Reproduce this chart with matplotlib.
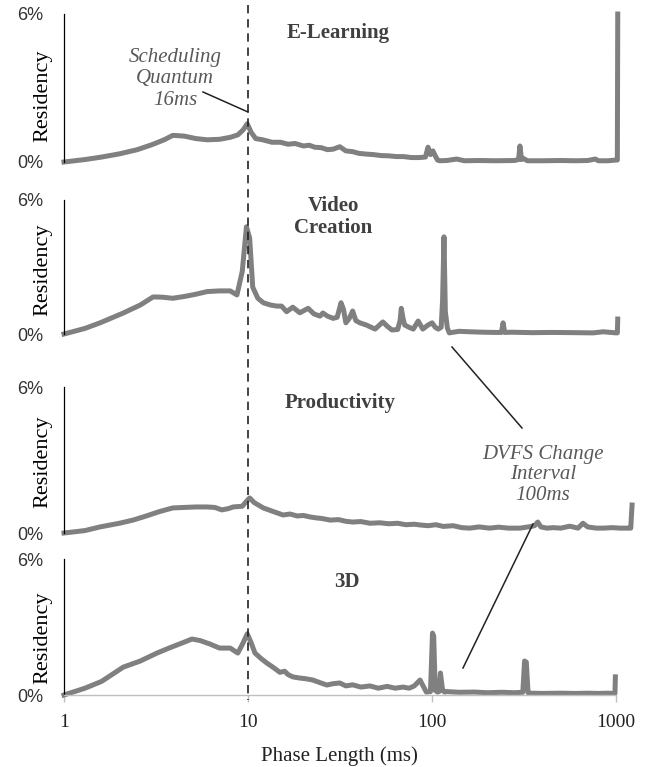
import numpy as np
import matplotlib
matplotlib.use("Agg")
import matplotlib.pyplot as plt
from matplotlib.lines import Line2D
from matplotlib.transforms import blended_transform_factory

plt.rcParams['font.family'] = ['Liberation Serif', 'DejaVu Serif']

# residency (%) vs phase length (ms)
elearn_x = [1, 1.3, 1.6, 2.0, 2.5, 3.0, 3.5, 3.9, 4.5, 5.2, 6.0, 7.0, 8.0, 8.8, 9.4, 9.9,
            10.4, 11.0, 12.0, 13.5, 15, 16.5, 18, 20, 21.5, 23, 25, 27, 29, 31.5, 34, 37,
            40, 44, 48, 53, 58, 64, 70, 77, 85, 92, 95, 98, 101, 104, 107, 110, 120, 136,
            150, 180, 220, 280, 295, 300, 306, 312, 330, 400, 500, 600, 700, 770, 800,
            900, 1000, 1015, 1020]
elearn_y = [0, 0.1, 0.2, 0.33, 0.5, 0.7, 0.9, 1.08, 1.05, 0.95, 0.9, 0.92, 1.0, 1.1, 1.3, 1.55,
            1.2, 0.95, 0.9, 0.8, 0.8, 0.72, 0.75, 0.65, 0.68, 0.6, 0.58, 0.5, 0.52, 0.62, 0.45, 0.42,
            0.35, 0.32, 0.3, 0.26, 0.25, 0.22, 0.22, 0.18, 0.18, 0.2, 0.6, 0.3, 0.45, 0.25, 0.08, 0.05,
            0.06, 0.12, 0.05, 0.06, 0.05, 0.06, 0.1, 0.65, 0.1, 0.15, 0.05, 0.05, 0.06, 0.05, 0.06,
            0.12, 0.05, 0.05, 0.08, 0.08, 6.0]

video_x = [1, 1.3, 1.57, 2.1, 2.6, 3.05, 3.4, 3.9, 4.5, 5.2, 6.0, 7.0, 8.0, 8.7, 9.3, 9.8,
           10.2, 10.6, 11.3, 12.1, 13.2, 14.3, 15.2, 16.2, 17.5, 19.1, 21.2, 22.8, 24.6, 25.5,
           27, 29, 30.5, 32, 33, 34, 35.5, 37, 38.5, 40.5, 44, 49, 54, 57, 60.5, 65, 67, 68,
           69.5, 71, 75, 79, 84, 89, 95, 100, 104, 108, 112, 114, 116, 118, 121, 124, 140,
           160, 190, 220, 238, 243, 248, 270, 350, 450, 600, 750, 850, 1000, 1015, 1020]
video_y = [0, 0.25, 0.5, 0.94, 1.3, 1.66, 1.65, 1.6, 1.68, 1.78, 1.9, 1.93, 1.93, 1.75, 2.8, 4.8,
           4.3, 2.1, 1.6, 1.4, 1.3, 1.25, 1.25, 1.0, 1.2, 0.95, 1.15, 0.9, 0.8, 0.94,
           0.8, 0.7, 0.75, 1.4, 1.1, 0.5, 0.7, 1.03, 0.6, 0.5, 0.4, 0.22, 0.54, 0.35, 0.18, 0.2, 0.6, 1.15,
           0.7, 0.4, 0.3, 0.22, 0.58, 0.22, 0.4, 0.5, 0.3, 0.22, 0.3, 1.5, 4.35, 1.0, 0.27, 0.05, 0.12,
           0.1, 0.08, 0.07, 0.07, 0.5, 0.07, 0.08, 0.06, 0.07, 0.06, 0.05, 0.1, 0.05, 0.05, 0.67]

prod_x = [1, 1.3, 1.57, 2.0, 2.37, 2.8, 3.3, 3.9, 4.5, 5.2, 6.0, 6.6, 7.2, 7.8, 8.3, 9.3,
          9.8, 10.2, 10.8, 12.1, 13.5, 15.5, 16.9, 18.5, 20, 21.7, 23.5, 25, 28, 31, 34, 37,
          41, 46, 52, 58, 65, 72, 80, 86, 95, 105, 115, 130, 145, 160, 180, 205, 230, 260,
          300, 340, 360, 375, 390, 420, 455, 500, 560, 620, 660, 700, 780, 850, 950, 1050,
          1170, 1200, 1220]
prod_y = [0, 0.1, 0.25, 0.4, 0.53, 0.7, 0.88, 1.03, 1.05, 1.07, 1.07, 1.05, 0.95, 1.0, 1.07, 1.1,
          1.3, 1.44, 1.25, 1.03, 0.9, 0.74, 0.78, 0.7, 0.72, 0.66, 0.62, 0.6, 0.53, 0.55, 0.48, 0.45,
          0.47, 0.4, 0.42, 0.38, 0.4, 0.34, 0.36, 0.33, 0.3, 0.34, 0.27, 0.3, 0.22, 0.2, 0.25, 0.2,
          0.24, 0.2, 0.2, 0.26, 0.3, 0.45, 0.25, 0.2, 0.22, 0.2, 0.28, 0.2, 0.4, 0.25, 0.2, 0.2,
          0.22, 0.2, 0.2, 0.2, 1.15]

d3_x = [1, 1.3, 1.6, 2.1, 2.6, 3.2, 3.8, 4.4, 4.96, 5.5, 6.2, 7.0, 8.0, 8.8, 9.4, 9.9,
        10.4, 10.9, 11.8, 12.7, 13.8, 14.9, 15.8, 16.5, 17.5, 19, 20.5, 22.5, 24.5, 26.8, 29,
        31.5, 34, 37, 41, 46, 51, 57, 63, 69.5, 75, 80, 86, 90, 93, 98, 100.5, 102, 104, 107,
        109, 111, 114, 117, 120, 140, 170, 200, 240, 280, 311, 318, 325, 332, 340, 400, 500,
        600, 700, 800, 900, 985, 990]
d3_y = [0, 0.3, 0.6, 1.23, 1.5, 1.85, 2.1, 2.3, 2.47, 2.4, 2.25, 2.07, 2.07, 1.85, 2.3, 2.7,
        2.3, 1.85, 1.6, 1.4, 1.2, 1.0, 1.05, 0.9, 0.8, 0.75, 0.72, 0.66, 0.55, 0.44, 0.5,
        0.53, 0.4, 0.45, 0.35, 0.4, 0.3, 0.38, 0.3, 0.35, 0.3, 0.4, 0.66, 0.35, 0.13, 0.15, 2.73,
        2.6, 0.2, 0.13, 0.15, 0.97, 0.2, 0.13, 0.15, 0.12, 0.13, 0.1, 0.12, 0.1, 0.12, 1.5, 1.45,
        0.1, 0.08, 0.07, 0.08, 0.07, 0.08, 0.07, 0.08, 0.07, 0.8]

series = [(elearn_x, elearn_y), (video_x, video_y), (prod_x, prod_y), (d3_x, d3_y)]
titles = ["E-Learning", "Video\nCreation", "Productivity", "3D"]

W, H = 652, 767
fig = plt.figure(figsize=(W / 100, H / 100), dpi=100)


def fx(px):
    return px / W


def fy(py):
    return 1 - py / H


# (top, bottom) pixel rows of each panel
rows = [(14, 162), (200, 334), (387, 533), (559, 695)]
ylab_pos = [0.446, 0.478, 0.486, 0.42]
x_left, x_right = 64, 634
line_col = "#808080"

axes = []
for i, ((top, bot), (xs, ys)) in enumerate(zip(rows, series)):
    ax = fig.add_axes([fx(x_left), fy(bot), fx(x_right - x_left), (bot - top) / H])
    ax.plot(xs, ys, color=line_col, lw=3.6, solid_joinstyle="round", clip_on=False)
    ax.set_xscale("log")
    ax.set_xlim(1, 1250)
    ax.set_ylim(0, 6)
    ax.set_yticks([0, 6])
    ax.set_yticklabels(["0%", "6%"], family="Liberation Sans", fontsize=13, color="#333333")
    ax.tick_params(axis="y", length=0, pad=15)
    ax.set_ylabel("Residency", fontsize=16, color="black")
    ax.yaxis.set_label_coords(-0.02, ylab_pos[i])
    for s in ["top", "right"]:
        ax.spines[s].set_visible(False)
    ax.spines["left"].set_linewidth(0.9)
    ax.spines["left"].set_color("black")
    ax.patch.set_alpha(0)
    axes.append(ax)

for ax in axes[:3]:
    ax.spines["bottom"].set_visible(False)
    ax.set_xticks([])
    ax.xaxis.set_minor_locator(matplotlib.ticker.NullLocator())

ax4 = axes[3]
ax4.spines["bottom"].set_color("#bfbfbf")
ax4.spines["bottom"].set_linewidth(1.0)
ax4.spines["bottom"].set_bounds(1, 1000)
ax4.set_xticks([1, 10, 100, 1000])
ax4.set_xticklabels(["1", "10", "100", "1000"], fontsize=14, color="#222222")
ax4.xaxis.set_minor_locator(matplotlib.ticker.NullLocator())
ax4.tick_params(axis="x", length=5, width=1, color="#bfbfbf", pad=9)
ax4.set_xlabel("Phase Length (ms)", fontsize=15, color="#222222")
ax4.xaxis.set_label_coords(0.484, -0.375)

# panel titles
title_pos = [(338, 33), (333, 217), (340, 403), (347, 582)]
for t, (px, py) in zip(titles, title_pos):
    fig.text(fx(px), fy(py), t, ha="center", va="center", fontsize=15,
             fontweight="bold", color="#404040", linespacing=1.1)

# dashed marker at 10 ms across all panels
trans = blended_transform_factory(ax4.transData, fig.transFigure)
fig.add_artist(Line2D([10, 10], [fy(5), fy(700)], transform=trans, color="#222222",
                      lw=1.2, linestyle=(0, (5, 3.5))))

# annotations
fig.text(fx(175), fy(79), "Scheduling\nQuantum\n16ms", ha="center", va="center",
         fontsize=15, style="italic", color="#595959", linespacing=1.15)
fig.text(fx(543), fy(475), "DVFS Change\nInterval\n100ms", ha="center", va="center",
         fontsize=15, style="italic", color="#595959", linespacing=1.13)
for (x0, y0), (x1, y1) in [((203, 92), (248, 112)), ((452, 347), (522, 428)),
                           ((533, 524), (463, 668))]:
    fig.add_artist(Line2D([fx(x0), fx(x1)], [fy(y0), fy(y1)], transform=fig.transFigure,
                          color="#222222", lw=1.1))

fig.savefig("out.png", dpi=100)
